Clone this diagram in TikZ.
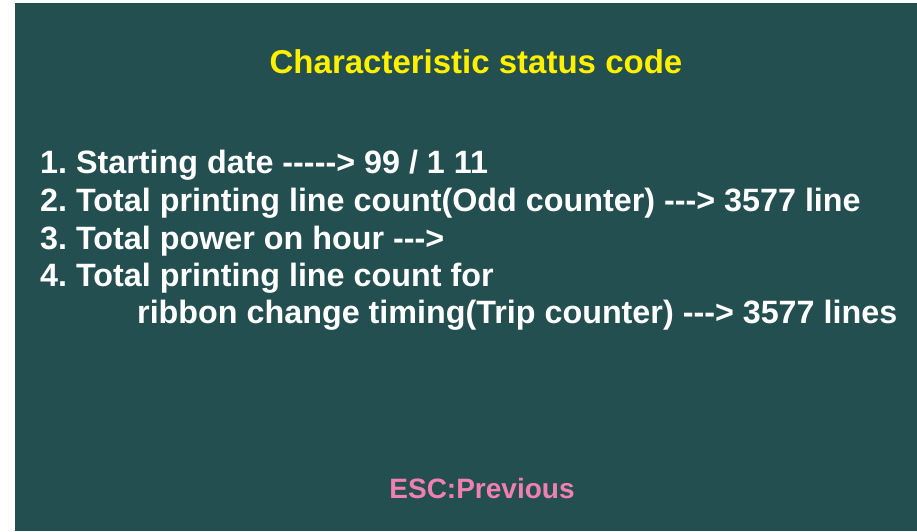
\documentclass[tikz,border=0pt]{standalone}
\usepackage{fontspec}
\setmainfont{Liberation Sans}[Ligatures=TeXOff]
\frenchspacing
\definecolor{panelbg}{RGB}{35,79,80}
\definecolor{titleyellow}{RGB}{255,240,0}
\definecolor{escpink}{RGB}{240,128,176}
\tikzset{
  panel/.style={fill=panelbg, draw=none},
  titletext/.style={font=\bfseries\fontsize{33}{36}\selectfont, text=titleyellow, inner sep=0pt},
  itemtext/.style={font=\bfseries\fontsize{32.3}{36}\selectfont, text=white, inner sep=0pt, anchor=base west},
  esctext/.style={font=\bfseries\fontsize{28}{32}\selectfont, text=escpink, inner sep=0pt},
}
\begin{document}
\begin{tikzpicture}[x=1pt,y=-1pt]
  \useasboundingbox (0,0) rectangle (917,531);
  \fill[white] (0,0) rectangle (917,531);
  \fill[panel] (15,3) rectangle (917,531);

  \node[titletext] (title) at (476,62) {Characteristic status code};

  \node[itemtext] (item1) at (40,173) {1. Starting date -----> 99 / 1 11};
  \node[itemtext] (item2) at (40,211) {2. Total printing line count(Odd counter) ---> 3577 line};
  \node[itemtext] (item3) at (40,249) {3. Total power on hour --->};
  \node[itemtext] (item4) at (40,286) {4. Total printing line count for};
  \node[itemtext] (item4b) at (137,323) {ribbon change timing(Trip counter) ---> 3577 lines};

  \node[esctext] (esc) at (482,488) {ESC:Previous};
\end{tikzpicture}
\end{document}
